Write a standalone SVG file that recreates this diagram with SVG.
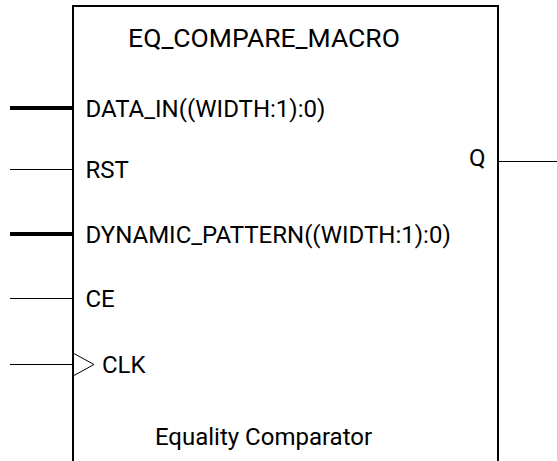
<svg xmlns="http://www.w3.org/2000/svg" width="557" height="461" viewBox="0 0 557 461">
<style>
text{font-family:Roboto,"Liberation Sans",sans-serif;font-size:24px;fill:#000}
.title{font-size:26.5px}
.thin{stroke:#000;stroke-width:1}
.bus{stroke:#000;stroke-width:4}
</style>
<rect width="557" height="461" fill="#fff"/>
<g id="block">
<rect x="73" y="6" width="425" height="470" fill="none" stroke="#000" stroke-width="2"/>
<text class="title" x="264" y="46.5" text-anchor="middle">EQ_COMPARE_MACRO</text>
<text x="85.5" y="116.5">DATA_IN((WIDTH:1):0)</text>
<text x="85.5" y="177.5">RST</text>
<text x="85.5" y="243">DYNAMIC_PATTERN((WIDTH:1):0)</text>
<text x="85.5" y="306.5">CE</text>
<text x="102" y="372.5">CLK</text>
<text x="485.5" y="165.5" text-anchor="end">Q</text>
<text x="263.5" y="444.5" text-anchor="middle">Equality Comparator</text>
<polyline points="73,353 94,364.5 73,376" fill="none" stroke="#000" stroke-width="1"/>
</g>
<g id="connectors">
<line class="bus" x1="10" y1="108" x2="73" y2="108"/>
<line class="thin" x1="10" y1="169.5" x2="73" y2="169.5"/>
<line class="bus" x1="10" y1="234" x2="73" y2="234"/>
<line class="thin" x1="10" y1="298.5" x2="73" y2="298.5"/>
<line class="thin" x1="10" y1="364.5" x2="73" y2="364.5"/>
<line class="thin" x1="498" y1="161.5" x2="557" y2="161.5"/>
</g>
</svg>
